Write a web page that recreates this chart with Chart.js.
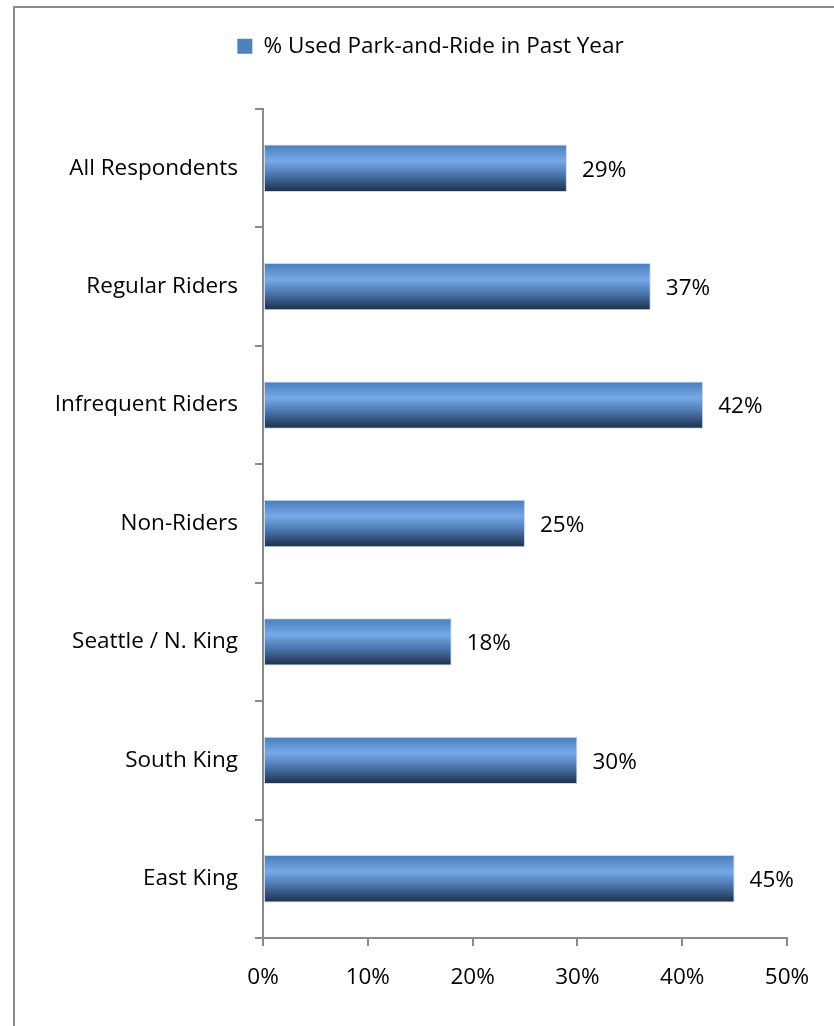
<!DOCTYPE html>
<html>
<head>
<meta charset="utf-8">
<script src="https://cdn.jsdelivr.net/npm/chart.js@4/dist/chart.umd.min.js"></script>
<style>
    html, body { margin: 0; padding: 0; background: #fff; overflow: hidden; }
    #wrap { position: relative; width: 834px; height: 1026px; }
    /* gray frame, only left and top edges are visible */
    #frame {
        position: absolute; left: 13px; top: 6px; width: 900px; height: 1100px;
        border-left: 2px solid #8a8a8a; border-top: 2px solid #8a8a8a;
        pointer-events: none;
    }
</style>
</head>
<body>
<div id="wrap">
    <canvas id="parkRideChart"></canvas>
    <div id="frame"></div>
</div>
<script>
// --- ДАННЫЕ ---
const categories = ['All Respondents', 'Regular Riders', 'Infrequent Riders', 'Non-Riders',
    'Seattle / N. King', 'South King', 'East King'];
const usedParkRide = [29, 37, 42, 25, 18, 30, 45];
const seriesName = '% Used Park-and-Ride in Past Year';
const xTicks = [0, 10, 20, 30, 40, 50];

const FONT = '"Open Sans", sans-serif';
const FONT_SIZE = 22.5;
const AXIS_GRAY = '#8a8a8a';
const BAR_PCT = 0.4;

// Градиент для каждого бара (светлая полоса сверху, темный низ)
function barGradient(context) {
    const chart = context.chart;
    if (!chart.chartArea) return '#4f81bd';
    const yScale = chart.scales.y;
    const yc = yScale.getPixelForValue(context.dataIndex);
    const half = (yScale.height / categories.length) * BAR_PCT / 2;
    const g = chart.ctx.createLinearGradient(0, yc - half, 0, yc + half);
    g.addColorStop(0, '#4a7cba');
    g.addColorStop(0.35, '#76a9e8');
    g.addColorStop(0.65, '#4874aa');
    g.addColorStop(1, '#1c2e48');
    return g;
}

// Подписи значений справа от баров
const valueLabels = {
    id: 'valueLabels',
    afterDatasetsDraw(chart) {
        const ctx = chart.ctx;
        const meta = chart.getDatasetMeta(0);
        ctx.save();
        ctx.font = FONT_SIZE + 'px ' + FONT;
        ctx.fillStyle = '#000';
        ctx.textBaseline = 'middle';
        ctx.textAlign = 'left';
        meta.data.forEach((bar, i) => {
            ctx.fillText(usedParkRide[i] + '%', bar.x + 15, bar.y + 2);
        });
        ctx.restore();
    }
};

// Легенда: фиксированная высота и сдвиг вправо, как на оригинале
const legendPlace = {
    id: 'legendPlace',
    beforeInit(chart) {
        const fit = chart.legend.fit;
        chart.legend.fit = function () {
            fit.bind(chart.legend)();
            this.height = 84;
        };
    },
    afterLayout(chart) {
        chart.legend.left += 42;
    }
};

new Chart(document.getElementById('parkRideChart'), {
    type: 'bar',
    data: {
        labels: categories,
        datasets: [{
            label: seriesName,
            data: usedParkRide,
            backgroundColor: barGradient,
            borderColor: 'rgba(150,180,220,0.5)',
            borderWidth: 1,
            borderSkipped: false,
            barPercentage: BAR_PCT,
            categoryPercentage: 1
        }]
    },
    options: {
        indexAxis: 'y',
        responsive: true,
        maintainAspectRatio: false,
        animation: false,
        layout: { padding: { left: 32, top: 25, right: 47, bottom: 0 } },
        plugins: {
            legend: {
                position: 'top',
                labels: {
                    boxWidth: 15,
                    boxHeight: 15,
                    padding: 10,
                    color: '#000',
                    font: { family: FONT, size: FONT_SIZE },
                    generateLabels: () => [{
                        text: seriesName,
                        fillStyle: '#4f81bd',
                        strokeStyle: '#4f81bd',
                        lineWidth: 0,
                        hidden: false,
                        datasetIndex: 0
                    }]
                }
            },
            tooltip: { enabled: false }
        },
        scales: {
            x: {
                min: 0,
                max: 50,
                afterBuildTicks: (scale) => { scale.ticks = xTicks.map(v => ({ value: v })); },
                afterFit: (scale) => { scale.height = 88; },
                grid: { drawOnChartArea: false, drawTicks: true, tickLength: 8, color: AXIS_GRAY, lineWidth: 2 },
                border: { display: true, color: AXIS_GRAY, width: 2 },
                ticks: {
                    color: '#000',
                    font: { family: FONT, size: FONT_SIZE },
                    padding: 18,
                    callback: (v) => v + '%'
                }
            },
            y: {
                afterFit: (scale) => { scale.width = 231; },
                grid: { drawOnChartArea: false, drawTicks: true, tickLength: 8, color: AXIS_GRAY, lineWidth: 2, offset: true },
                border: { display: true, color: AXIS_GRAY, width: 2 },
                ticks: {
                    color: '#000',
                    font: { family: FONT, size: FONT_SIZE },
                    padding: 17
                }
            }
        }
    },
    plugins: [valueLabels, legendPlace]
});
</script>
</body>
</html>
